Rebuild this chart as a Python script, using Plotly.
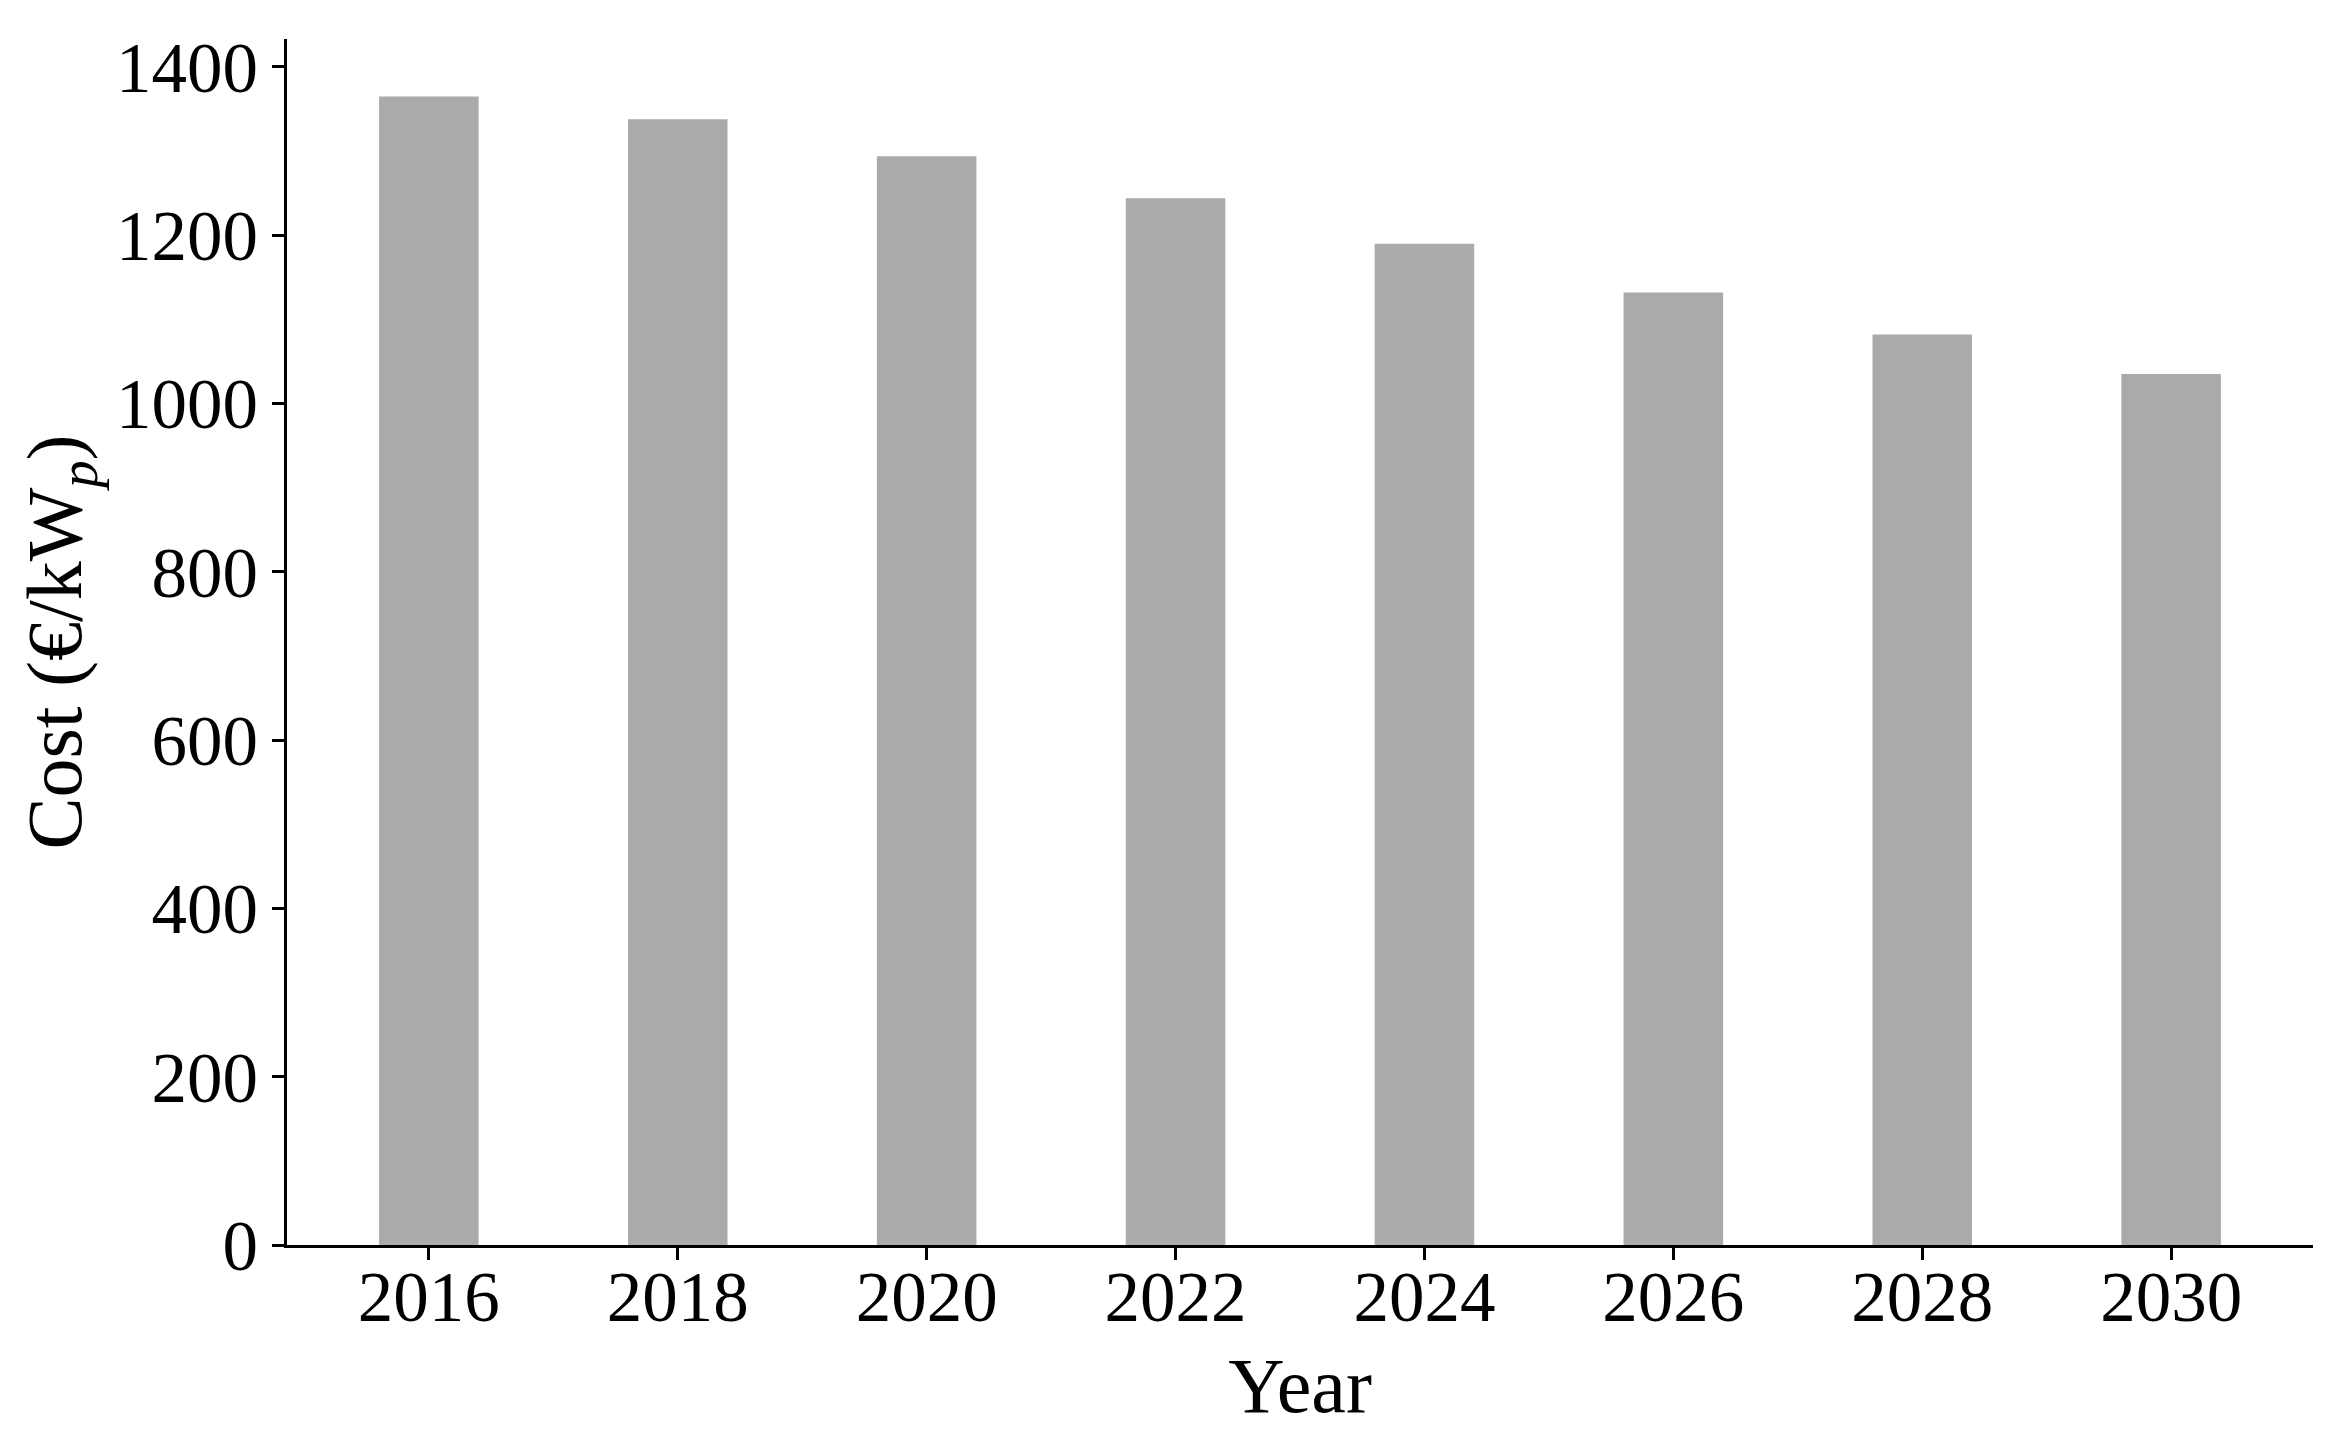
import plotly.graph_objects as go

# PV system cost projection
years = [2016, 2018, 2020, 2022, 2024, 2026, 2028, 2030]
cost = [1365, 1338, 1294, 1244, 1190, 1132, 1082, 1035]
y_ticks = [0, 200, 400, 600, 800, 1000, 1200, 1400]

bar_width = 0.8
font_family = "Liberation Serif"
line_w = 2.8

fig = go.Figure()
fig.add_trace(go.Bar(x=years, y=cost, width=bar_width,
                     marker=dict(color="#aaaaaa", line=dict(width=0))))

# matplotlib style autoscale: 5% margins
x_lo = min(years) - bar_width / 2
x_hi = max(years) + bar_width / 2
pad = 0.05 * (x_hi - x_lo)

# page body has an 8px margin, so the figure is a bit smaller than the window
fig.update_layout(
    width=2329, height=1421,
    margin=dict(l=279, r=24, t=31, b=184),
    paper_bgcolor="white", plot_bgcolor="white",
    showlegend=False,
    font=dict(family=font_family, size=71, color="black"),
)
fig.update_xaxes(
    automargin=False,
    range=[x_lo - pad, x_hi + pad],
    tickvals=years, ticktext=[str(y) for y in years],
    showgrid=False, zeroline=False,
    showline=True, linecolor="black", linewidth=line_w,
    ticks="outside", ticklen=12, tickwidth=line_w, tickcolor="black",
    ticklabelstandoff=-24,
    title=dict(text="Year", standoff=25, font=dict(size=78)),
)
fig.update_yaxes(
    automargin=False,
    range=[0, max(cost) * 1.05],
    tickvals=y_ticks,
    showgrid=False, zeroline=False,
    showline=True, linecolor="black", linewidth=line_w,
    ticks="outside", ticklen=12, tickwidth=line_w, tickcolor="black",
    ticklabelstandoff=0,
    title=dict(text="Cost (€/kW<sub><i>p</i></sub>)", standoff=9, font=dict(size=78)),
)

fig.write_html("out.html")
